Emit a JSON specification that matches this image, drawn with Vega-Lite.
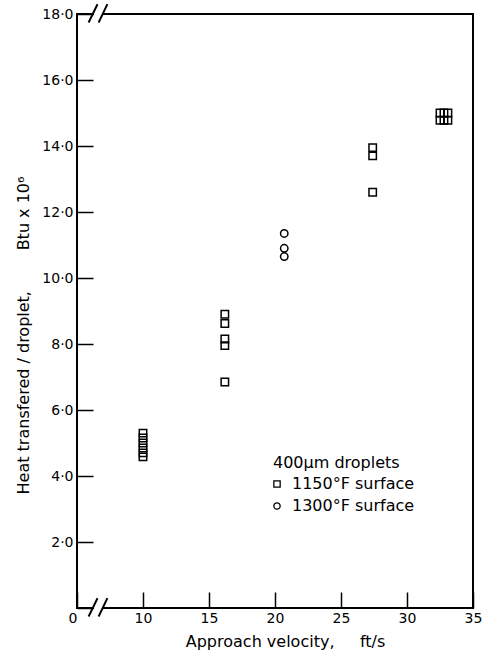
{
  "$schema": "https://vega.github.io/schema/vega-lite/v6.json",
  "autosize": "none",
  "padding": {"left": 77, "top": 14, "right": 9, "bottom": 47},
  "width": 396,
  "height": 594,
  "background": "white",
  "config": {
    "view": {"stroke": null},
    "font": "DejaVu Sans",
    "axis": {
      "domain": false,
      "grid": false,
      "tickColor": "black",
      "tickWidth": 1.5,
      "tickSize": -16,
      "labelColor": "black",
      "labelFont": "DejaVu Sans",
      "labelFontSize": 14,
      "titleColor": "black",
      "titleFont": "DejaVu Sans",
      "titleFontSize": 16,
      "titleFontWeight": "normal"
    },
    "legend": {
      "titleFont": "DejaVu Sans",
      "titleFontSize": 16,
      "titleFontWeight": "normal",
      "titleColor": "black",
      "labelFont": "DejaVu Sans",
      "labelFontSize": 16,
      "labelColor": "black"
    }
  },
  "datasets": {
    "frame": [
      {"velocity": 5, "velocity2": 5, "heat": 0, "heat2": 18},
      {"velocity": 35, "velocity2": 35, "heat": 0, "heat2": 18},
      {"velocity": 5, "velocity2": 6.21, "heat": 0, "heat2": 0},
      {"velocity": 6.97, "velocity2": 35, "heat": 0, "heat2": 0},
      {"velocity": 5, "velocity2": 6.21, "heat": 18, "heat2": 18},
      {"velocity": 6.97, "velocity2": 35, "heat": 18, "heat2": 18},
      {"velocity": 5.91, "velocity2": 6.52, "heat": -0.23, "heat2": 0.27},
      {"velocity": 6.67, "velocity2": 7.27, "heat": -0.23, "heat2": 0.27},
      {"velocity": 5.91, "velocity2": 6.52, "heat": 17.77, "heat2": 18.27},
      {"velocity": 6.67, "velocity2": 7.27, "heat": 17.77, "heat2": 18.27}
    ],
    "points": [
      {"velocity": 10, "heat": 5.3, "surface": "1150°F surface"},
      {"velocity": 10, "heat": 5.15, "surface": "1150°F surface"},
      {"velocity": 10, "heat": 5.0, "surface": "1150°F surface"},
      {"velocity": 10, "heat": 4.85, "surface": "1150°F surface"},
      {"velocity": 10, "heat": 4.7, "surface": "1150°F surface"},
      {"velocity": 10, "heat": 4.58, "surface": "1150°F surface"},
      {"velocity": 16.2, "heat": 8.9, "surface": "1150°F surface"},
      {"velocity": 16.2, "heat": 8.62, "surface": "1150°F surface"},
      {"velocity": 16.2, "heat": 8.15, "surface": "1150°F surface"},
      {"velocity": 16.2, "heat": 7.95, "surface": "1150°F surface"},
      {"velocity": 16.2, "heat": 6.85, "surface": "1150°F surface"},
      {"velocity": 27.4, "heat": 13.95, "surface": "1150°F surface"},
      {"velocity": 27.4, "heat": 13.7, "surface": "1150°F surface"},
      {"velocity": 27.4, "heat": 12.6, "surface": "1150°F surface"},
      {"velocity": 32.5, "heat": 15.0, "surface": "1150°F surface"},
      {"velocity": 32.8, "heat": 15.0, "surface": "1150°F surface"},
      {"velocity": 33.1, "heat": 15.0, "surface": "1150°F surface"},
      {"velocity": 32.5, "heat": 14.78, "surface": "1150°F surface"},
      {"velocity": 32.8, "heat": 14.78, "surface": "1150°F surface"},
      {"velocity": 33.1, "heat": 14.78, "surface": "1150°F surface"},
      {"velocity": 20.7, "heat": 11.35, "surface": "1300°F surface"},
      {"velocity": 20.7, "heat": 10.9, "surface": "1300°F surface"},
      {"velocity": 20.7, "heat": 10.65, "surface": "1300°F surface"}
    ]
  },
  "encoding": {
    "x": {
      "field": "velocity",
      "type": "quantitative",
      "scale": {"domain": [5, 35], "nice": false, "zero": false},
      "axis": {
        "values": [5, 10, 15, 20, 25, 30, 35],
        "labelExpr": "datum.value == 5 ? '0' : datum.label",
        "labelAlign": {"condition": {"test": "datum.value == 5", "value": "right"}, "value": "center"},
        "labelPadding": 19,
        "title": "Approach velocity,\u00a0\u00a0\u00a0\u00a0 ft/s",
        "titleX": 208,
        "titlePadding": 8
      }
    },
    "y": {
      "field": "heat",
      "type": "quantitative",
      "scale": {"domain": [0, 18], "nice": false},
      "axis": {
        "values": [0, 2, 4, 6, 8, 10, 12, 14, 16, 18],
        "labelExpr": "datum.value == 0 ? '' : replace(format(datum.value, '.1f'), '.', '·')",
        "labelPadding": 20,
        "title": "Heat transfered / droplet,\u00a0\u00a0\u00a0\u00a0\u00a0\u00a0\u00a0 Btu x 10⁶",
        "titleY": 321,
        "titlePadding": 10
      }
    }
  },
  "layer": [
    {
      "data": {"name": "frame"},
      "mark": {"type": "rule", "color": "black", "strokeWidth": 2, "strokeCap": "square"},
      "encoding": {
        "x2": {"field": "velocity2"},
        "y2": {"field": "heat2"}
      }
    },
    {
      "data": {"name": "points"},
      "mark": {"type": "point", "filled": false, "color": "black", "strokeWidth": 1.5, "size": 55, "opacity": 1},
      "encoding": {
        "shape": {
          "field": "surface",
          "type": "nominal",
          "scale": {"domain": ["1150°F surface", "1300°F surface"], "range": ["square", "circle"]},
          "legend": {
            "title": "400μm droplets",
            "orient": "none",
            "legendX": 196,
            "legendY": 441,
            "symbolSize": 40,
            "symbolStrokeWidth": 1.3,
            "symbolStrokeColor": "black",
            "symbolOffset": -4,
            "labelOffset": 7,
            "rowPadding": 6
          }
        }
      }
    }
  ]
}
